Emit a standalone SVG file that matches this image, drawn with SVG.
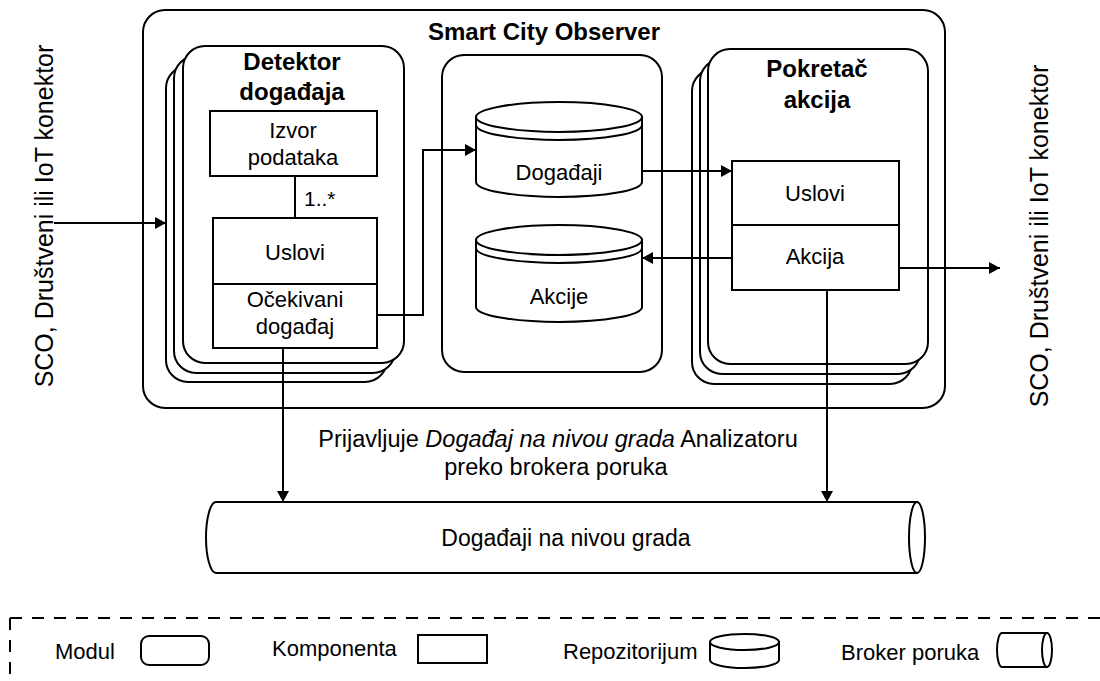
<svg xmlns="http://www.w3.org/2000/svg" width="1100" height="681" viewBox="0 0 1100 681">
<defs>
<style>
text{font-family:"Liberation Sans",Arial,sans-serif;fill:#000}
.t{font-size:22px;text-anchor:middle}
.b{font-size:24px;font-weight:bold;text-anchor:middle}
.s{fill:#fff;stroke:#000;stroke-width:2}
.n{fill:none;stroke:#000;stroke-width:2}
.c{fill:none;stroke:#000;stroke-width:2}
.lg{font-size:22px}
</style>
<marker id="ah" markerWidth="12" markerHeight="12" refX="11" refY="6" orient="auto" markerUnits="userSpaceOnUse"><path d="M0,0 L11,6 L0,12 z" fill="#000"/></marker>
</defs>
<rect width="1100" height="681" fill="#fff"/>

<g id="sco">
<rect class="s" x="143" y="10" width="802" height="398" rx="22"/>
<text class="b" x="544" y="40">Smart City Observer</text>
</g>

<g id="detektor">
<rect class="s" x="166" y="66" width="221" height="316" rx="22"/>
<rect class="s" x="174" y="56" width="221" height="317" rx="22"/>
<rect class="s" x="183" y="46" width="221" height="317" rx="22"/>
<text class="b" x="292" y="70">Detektor</text>
<text class="b" x="292" y="100">događaja</text>
</g>

<g id="izvor">
<rect class="s" x="210" y="111" width="167" height="65"/>
<text class="t" x="293" y="138">Izvor</text>
<text class="t" x="293" y="165">podataka</text>
</g>

<g id="uslovi-detektor">
<rect class="s" x="213" y="218" width="164" height="130"/>
<line class="n" x1="213" y1="284" x2="377" y2="284"/>
<text class="t" x="295" y="260">Uslovi</text>
<text class="t" x="295" y="307">Očekivani</text>
<text class="t" x="295" y="334">događaj</text>
</g>

<g id="repo-modul">
<rect class="s" x="442" y="55" width="220" height="317" rx="22"/>
</g>

<g id="dogadjaji">
<path class="s" d="M476,117 V182 A83,15 0 0 0 642,182 V117 Z"/>
<ellipse class="s" cx="559" cy="117" rx="83" ry="15"/>
<path class="n" d="M476,125 A83,15 0 0 0 642,125"/>
<text class="t" x="559" y="180">Događaji</text>
</g>

<g id="akcije">
<path class="s" d="M476,240 V307 A83,15 0 0 0 642,307 V240 Z"/>
<ellipse class="s" cx="559" cy="240" rx="83" ry="15"/>
<path class="n" d="M476,248 A83,15 0 0 0 642,248"/>
<text class="t" x="559" y="304">Akcije</text>
</g>

<g id="pokretac">
<rect class="s" x="692" y="69" width="220" height="315" rx="22"/>
<rect class="s" x="700" y="59" width="220" height="315" rx="22"/>
<rect class="s" x="708" y="49" width="220" height="315" rx="22"/>
<text class="b" x="817" y="77">Pokretač</text>
<text class="b" x="817" y="108">akcija</text>
</g>

<g id="uslovi-akcija">
<rect class="s" x="732" y="161" width="167" height="129"/>
<line class="n" x1="732" y1="225" x2="899" y2="225"/>
<text class="t" x="815" y="201">Uslovi</text>
<text class="t" x="815" y="264">Akcija</text>
</g>

<g id="broker">
<path class="s" d="M216,502 H917 V573 H216 A10,35.5 0 0 1 216,502 Z"/>
<ellipse class="s" cx="917" cy="537.5" rx="8" ry="35.5"/>
<text class="t" x="566" y="546" style="font-size:23px">Događaji na nivou grada</text>
</g>

<g id="labels">
<text class="t" transform="translate(53,216) rotate(-90)" style="font-size:25px">SCO, Društveni ili IoT konektor</text>
<text class="t" transform="translate(1048,236) rotate(-90)" style="font-size:25px">SCO, Društveni ili IoT konektor</text>
<text class="t" x="558" y="447" style="font-size:23.5px">Prijavljuje <tspan font-style="italic">Događaj na nivou grada</tspan> Analizatoru</text>
<text class="t" x="556" y="475" style="font-size:23.5px">preko brokera poruka</text>
<text x="304" y="206" style="font-size:21px">1..*</text>
</g>

<g id="connectors">
<line class="c" x1="295" y1="176" x2="295" y2="218"/>
<line class="c" x1="54" y1="223" x2="166" y2="223" marker-end="url(#ah)"/>
<polyline class="c" points="377,315 423,315 423,150 476,150" marker-end="url(#ah)"/>
<line class="c" x1="642" y1="171" x2="732" y2="171" marker-end="url(#ah)"/>
<line class="c" x1="732" y1="258" x2="642" y2="258" marker-end="url(#ah)"/>
<line class="c" x1="899" y1="268" x2="1000" y2="268" marker-end="url(#ah)"/>
<line class="c" x1="283" y1="348" x2="283" y2="502" marker-end="url(#ah)"/>
<line class="c" x1="827" y1="290" x2="827" y2="502" marker-end="url(#ah)"/>
</g>

<g id="legend">
<path d="M10,618 H1100 M10,618 V681" fill="none" stroke="#000" stroke-width="2" stroke-dasharray="12 10"/>
<text class="lg" x="55" y="659">Modul</text>
<rect class="s" x="141" y="636" width="68" height="29" rx="8"/>
<text class="lg" x="272" y="656">Komponenta</text>
<rect class="s" x="418" y="635" width="69" height="28"/>
<text class="lg" x="563" y="659">Repozitorijum</text>
<path class="s" d="M710,642 V660 A34.5,8 0 0 0 779,660 V642 Z"/>
<ellipse class="s" cx="744.5" cy="642" rx="34.5" ry="8"/>
<text class="lg" x="841" y="660">Broker poruka</text>
<path class="s" d="M1002,633 H1047 V667 H1002 A5,17 0 0 1 1002,633 Z"/>
<ellipse class="s" cx="1047" cy="650" rx="5" ry="17"/>
</g>
</svg>
